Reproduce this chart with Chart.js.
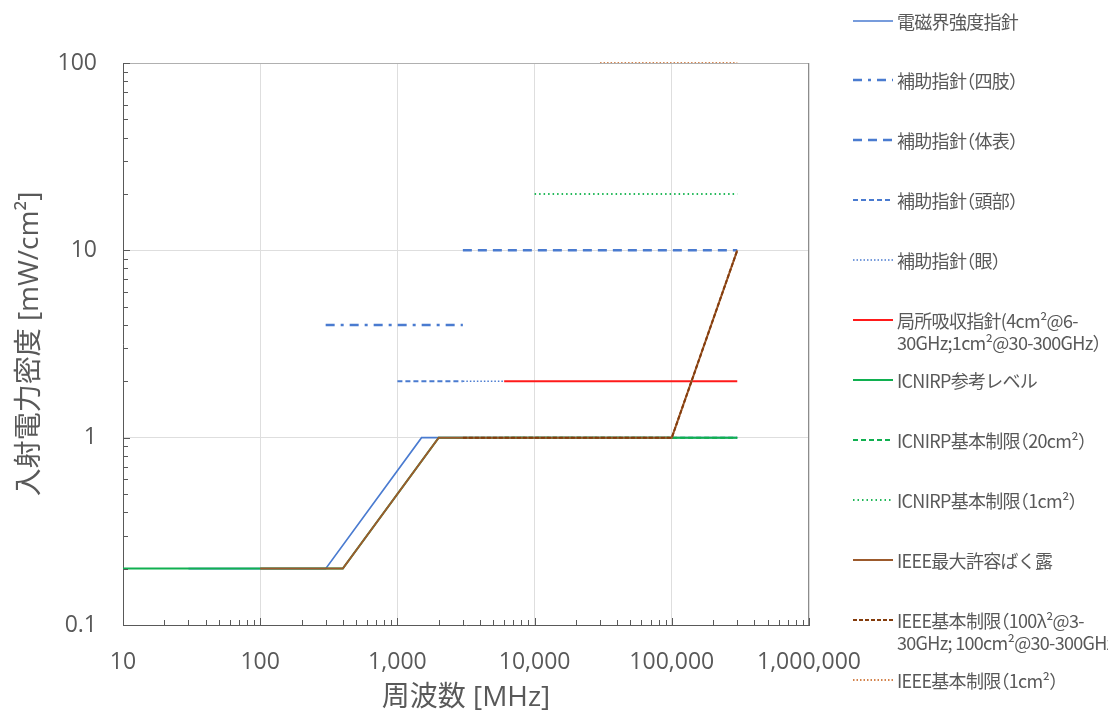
<!DOCTYPE html>
<html>
<head>
<meta charset="utf-8">
<script src="https://cdn.jsdelivr.net/npm/chart.js@4.4.1/dist/chart.umd.min.js"></script>
<style>
  body { margin: 0; background: #fff; }
  #wrap { position: relative; width: 1108px; height: 715px; }
  #legend { position: absolute; left: 0; top: 0; }
  .item { position: absolute; left: 853px; display: flex; align-items: flex-start;
          font-family: "Noto Sans CJK JP", sans-serif; font-size: 18px;
          font-feature-settings: "halt"; letter-spacing: -0.7px;
          line-height: 22px; color: #595959; white-space: pre; }
  .item svg { flex: none; margin-top: 4px; margin-right: 4px; }
</style>
</head>
<body>
<div id="wrap">
  <canvas id="chart"></canvas>
  <div id="legend"></div>
</div>
<script>
// frequency [MHz] / incident power density [mW/cm2]
const emfFreq = [30, 300, 1500, 300000];
const emfDens = [0.2, 0.2, 1, 1];
const limbFreq = [300, 3000];
const limbDens = [4, 4];
const bodyFreq = [3000, 300000];
const bodyDens = [10, 10];
const headFreq = [1000, 3000];
const headDens = [2, 2];
const eyeFreq = [3000, 6000];
const eyeDens = [2, 2];
const localFreq = [6000, 300000];
const localDens = [2, 2];
const icnirpRefFreq = [10, 400, 2000, 300000];
const icnirpRefDens = [0.2, 0.2, 1, 1];
const icnirp20Freq = [6000, 300000];
const icnirp20Dens = [1, 1];
const icnirp1Freq = [10000, 300000];
const icnirp1Dens = [20, 20];
const ieeeMpeFreq = [100, 400, 2000, 100000, 300000];
const ieeeMpeDens = [0.2, 0.2, 1, 1, 10];
const ieeeBrFreq = [3000, 100000, 300000];
const ieeeBrDens = [1, 1, 10];
const ieee1Freq = [30000, 300000];
const ieee1Dens = [100, 100];

const labels = [
  '電磁界強度指針',
  '補助指針（四肢）',
  '補助指針（体表）',
  '補助指針（頭部）',
  '補助指針（眼）',
  '局所吸収指針(4cm²@6-\n30GHz;1cm²@30-300GHz）',
  'ICNIRP参考レベル',
  'ICNIRP基本制限（20cm²）',
  'ICNIRP基本制限（1cm²）',
  'IEEE最大許容ばく露',
  'IEEE基本制限（100λ²@3-\n30GHz; 100cm²@30-300GHz）',
  'IEEE基本制限（1cm²）'
];

const xTicks = [10, 100, 1000, 10000, 100000, 1000000];
const yTicks = [0.1, 1, 10, 100];
const yTickLabels = ['0.1', '1', '10', '100'];

const freqs = [emfFreq, limbFreq, bodyFreq, headFreq, eyeFreq, localFreq,
  icnirpRefFreq, icnirp20Freq, icnirp1Freq, ieeeMpeFreq, ieeeBrFreq, ieee1Freq];
const dens = [emfDens, limbDens, bodyDens, headDens, eyeDens, localDens,
  icnirpRefDens, icnirp20Dens, icnirp1Dens, ieeeMpeDens, ieeeBrDens, ieee1Dens];

const styles = [
  { color: '#4a7bd0', width: 1.6, dash: [] },
  { color: '#4a7bd0', width: 2.5, dash: [9, 6, 3, 6] },
  { color: '#4a7bd0', width: 2.5, dash: [9, 6] },
  { color: '#4a7bd0', width: 2, dash: [5, 3] },
  { color: '#4a7bd0', width: 1.6, dash: [1.5, 2] },
  { color: '#ff1a1a', width: 2, dash: [] },
  { color: '#10b050', width: 2, dash: [] },
  { color: '#10b050', width: 2, dash: [5, 3] },
  { color: '#20b858', width: 2, dash: [1.5, 3] },
  { color: '#9c5a2c', width: 2, dash: [] },
  { color: '#843c0c', width: 2, dash: [4, 2] },
  { color: '#c55a11', width: 1.5, dash: [1.5, 2] }
];

// later series are painted on top, as in the original
const datasets = labels.map((label, i) => ({
  label: label,
  data: freqs[i].map((f, j) => ({ x: f, y: dens[i][j] })),
  borderColor: styles[i].color,
  borderWidth: styles[i].width,
  borderDash: styles[i].dash,
  order: labels.length - i,
  pointRadius: 0,
  fill: false,
  tension: 0,
  clip: { left: 0, right: 4, top: 4, bottom: 4 }
}));

const frame = {
  id: 'frame',
  afterDatasetsDraw(chart) {
    const { ctx, chartArea: a, scales: { x, y } } = chart;
    ctx.save();
    ctx.lineWidth = 1;
    ctx.strokeStyle = '#b0b0b0';
    ctx.beginPath();
    ctx.moveTo(a.left, a.top + 0.5); ctx.lineTo(a.right, a.top + 0.5);
    ctx.stroke();
    ctx.strokeStyle = '#8c8c8c';
    ctx.beginPath();
    ctx.moveTo(a.right - 0.5, a.top); ctx.lineTo(a.right - 0.5, a.bottom);
    ctx.stroke();
    // inside minor ticks
    ctx.strokeStyle = '#595959';
    ctx.beginPath();
    for (let d = 10; d < 1000000; d *= 10) {
      for (let m = 2; m <= 10; m++) {
        const px = Math.round(x.getPixelForValue(d * m)) + 0.5;
        const len = m === 10 ? 7 : 5;
        ctx.moveTo(px, a.bottom); ctx.lineTo(px, a.bottom - len);
      }
    }
    for (let d = 0.1; d < 100; d *= 10) {
      for (let m = 2; m <= 10; m++) {
        const py = Math.round(y.getPixelForValue(d * m)) + 0.5;
        const len = m === 10 ? 7 : 5;
        ctx.moveTo(a.left, py); ctx.lineTo(a.left + len, py);
      }
    }
    ctx.stroke();
    ctx.restore();
  }
};

const tickFont = { family: '"Open Sans", "Noto Sans CJK JP", sans-serif', size: 23 };
const titleFont = { family: '"Open Sans", "Noto Sans CJK JP", sans-serif', size: 28 };

const chart = new Chart(document.getElementById('chart'), {
  type: 'line',
  data: { datasets: datasets },
  options: {
    responsive: true,
    maintainAspectRatio: false,
    animation: false,
    layout: { padding: { top: 63, right: 299, left: 0, bottom: 0 } },
    plugins: { legend: { display: false }, tooltip: { enabled: false } },
    scales: {
      x: {
        type: 'logarithmic',
        min: 10,
        max: 1000000,
        afterBuildTicks: s => { s.ticks = xTicks.map(v => ({ value: v })); },
        afterFit: s => { s.height = 90; },
        ticks: {
          autoSkip: false, maxRotation: 0, color: '#595959', font: tickFont, padding: 24,
          callback: v => Number(v).toLocaleString('en-US')
        },
        grid: { color: '#dedede', drawTicks: false },
        border: { color: '#595959' },
        title: { display: true, text: '周波数 [MHz]', color: '#595959', font: titleFont,
                 padding: { top: 0, bottom: 0 } }
      },
      y: {
        type: 'logarithmic',
        min: 0.1,
        max: 100,
        afterBuildTicks: s => { s.ticks = yTicks.map(v => ({ value: v })); },
        afterFit: s => { s.width = 123; },
        ticks: {
          autoSkip: false, color: '#595959', font: tickFont, padding: 26,
          callback: (v, i) => yTickLabels[i]
        },
        grid: { color: '#dedede', drawTicks: false },
        border: { color: '#595959' },
        title: { display: true, text: '入射電力密度 [mW/cm²]', color: '#595959', font: titleFont,
                 padding: { top: 13, bottom: 0 } }
      }
    }
  },
  plugins: [frame]
});

// legend on the right, built from the datasets
const legend = document.getElementById('legend');
chart.data.datasets.forEach((ds, i) => {
  const item = document.createElement('div');
  item.className = 'item';
  item.style.top = (20.5 + 59.95 * i - 11) + 'px';
  const dash = ds.borderDash.length ? ds.borderDash.join(',') : 'none';
  item.innerHTML =
    '<svg width="40" height="14"><line x1="0" y1="7" x2="40" y2="7" stroke="' + ds.borderColor +
    '" stroke-width="' + ds.borderWidth + '" stroke-dasharray="' + dash + '"/></svg>';
  const span = document.createElement('span');
  span.textContent = ds.label;
  item.appendChild(span);
  legend.appendChild(item);
});
</script>
</body>
</html>
